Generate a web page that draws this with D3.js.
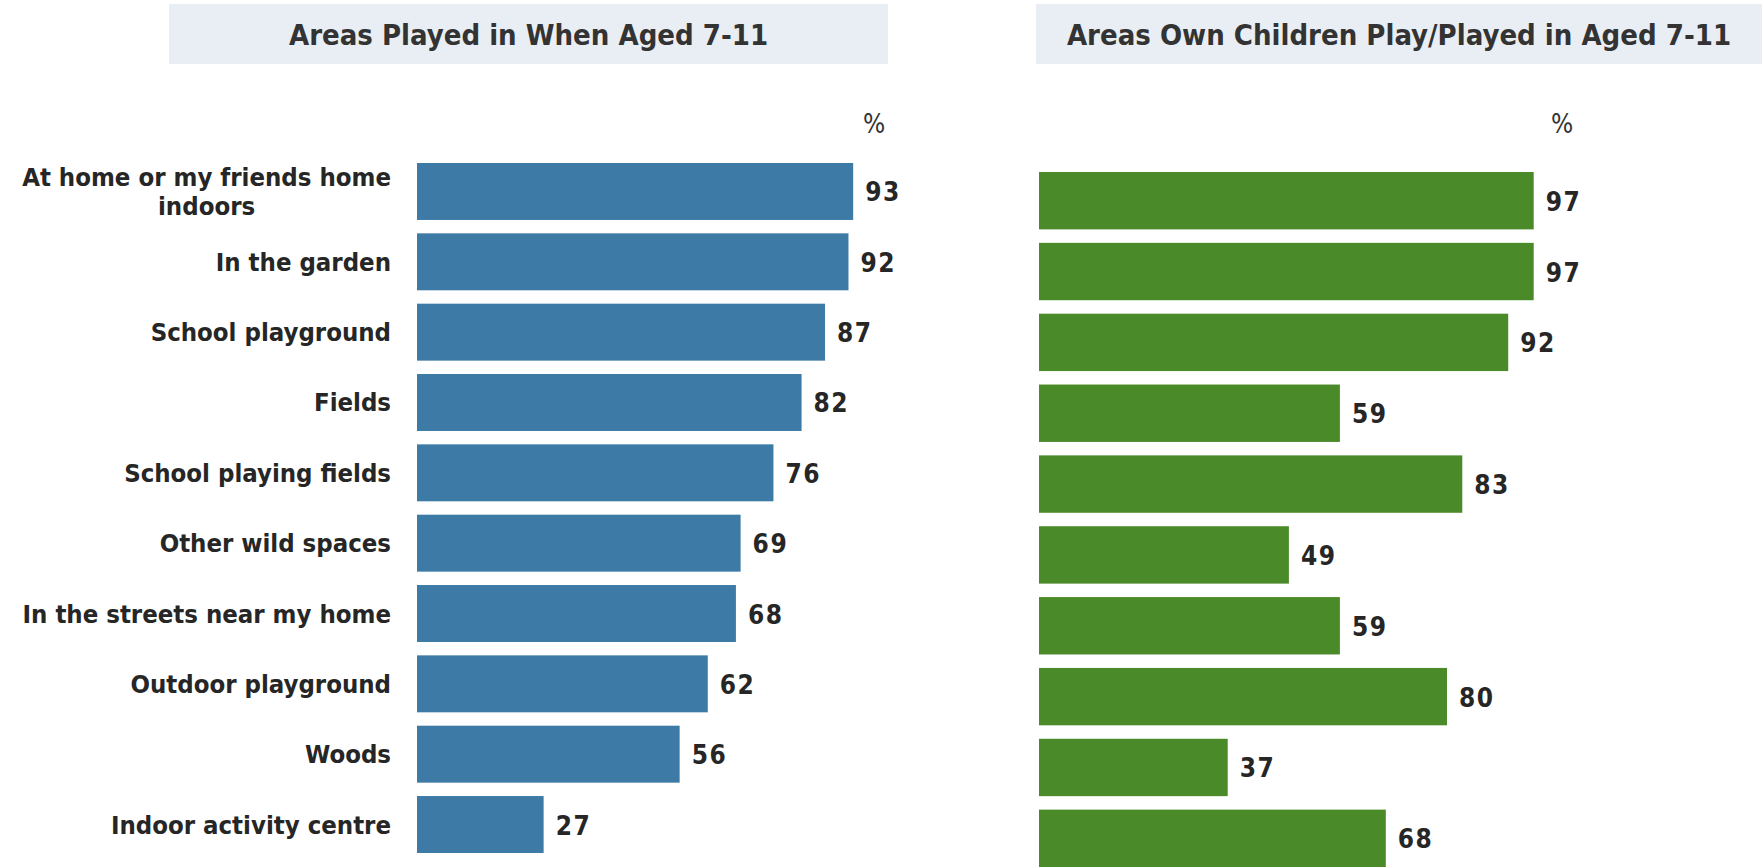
<!doctype html>
<html lang="en">
<head>
<meta charset="UTF-8">
<title>Areas Played in Aged 7-11</title>
<style>
  body { margin: 0; background: #fff; }
  svg { display: block; }
  .title { font-family: "DejaVu Sans Condensed", "DejaVu Sans", sans-serif; font-weight: bold; font-size: 29px; fill: #333; }
  .cat { font-family: "DejaVu Sans Condensed", "DejaVu Sans", sans-serif; font-weight: bold; font-size: 25.5px; fill: #262626; }
  .val { font-family: "DejaVu Sans Condensed", "DejaVu Sans", sans-serif; font-weight: bold; font-size: 26px; fill: #262626; letter-spacing: 1.5px; }
  .pct { font-family: "DejaVu Sans Condensed", "DejaVu Sans", sans-serif; font-size: 26px; fill: #333; }
</style>
</head>
<body>
<div id="chart"></div>
<script src="https://cdn.jsdelivr.net/npm/d3@7"></script>
<script>
  const categories = [
    'At home or my friends home\nindoors',
    'In the garden',
    'School playground',
    'Fields',
    'School playing fields',
    'Other wild spaces',
    'In the streets near my home',
    'Outdoor playground',
    'Woods',
    'Indoor activity centre'
  ]
  const playedValues = [93, 92, 87, 82, 76, 69, 68, 62, 56, 27]
  const ownChildrenValues = [97, 97, 92, 59, 83, 49, 59, 80, 37, 68]
  const titles = ['Areas Played in When Aged 7-11', 'Areas Own Children Play/Played in Aged 7-11']

  const width = 1762
  const height = 867

  const svg = d3.select('#chart')
    .append('svg')
    .attr('width', width)
    .attr('height', height)

  const panels = [
    {title: titles[0], values: playedValues, color: '#3d7ba6', x0: 417, xSpan: 469, y0: 163, y1: 853, box: [169, 888], pctX: 874, labels: true},
    {title: titles[1], values: ownChildrenValues, color: '#4a8a28', x0: 1039, xSpan: 510, y0: 172, y1: 867, box: [1036, 1762], pctX: 1562, labels: false}
  ]

  panels.forEach(p => {
    const g = svg.append('g')

    // title box
    g.append('rect')
      .attr('x', p.box[0])
      .attr('y', 4)
      .attr('width', p.box[1] - p.box[0])
      .attr('height', 60)
      .attr('fill', '#e9eef4')

    g.append('text')
      .attr('class', 'title')
      .attr('x', (p.box[0] + p.box[1]) / 2)
      .attr('y', 35)
      .attr('text-anchor', 'middle')
      .attr('dominant-baseline', 'central')
      .text(p.title)

    g.append('text')
      .attr('class', 'pct')
      .attr('x', p.pctX)
      .attr('y', 124)
      .attr('text-anchor', 'middle')
      .attr('dominant-baseline', 'central')
      .text('%')

    const x = d3.scaleLinear()
      .domain([0, 100])
      .range([p.x0, p.x0 + p.xSpan])

    const y = d3.scaleBand()
      .domain(categories)
      .range([p.y0, p.y1])
      .paddingInner(0.19)
      .paddingOuter(0)

    const rows = categories.map((c, i) => ({cat: c, value: p.values[i]}))

    g.selectAll('rect.bar')
      .data(rows)
      .enter()
      .append('rect')
      .attr('class', 'bar')
      .attr('x', x(0))
      .attr('y', d => y(d.cat))
      .attr('width', d => x(d.value) - x(0))
      .attr('height', y.bandwidth())
      .attr('fill', p.color)

    g.selectAll('text.val')
      .data(rows)
      .enter()
      .append('text')
      .attr('class', 'val')
      .attr('x', d => x(d.value) + 12)
      .attr('y', d => y(d.cat) + y.bandwidth() / 2 + 1)
      .attr('dominant-baseline', 'central')
      .text(d => d.value)

    if (p.labels) {
      g.selectAll('text.cat')
        .data(rows)
        .enter()
        .append('text')
        .attr('class', 'cat')
        .attr('y', d => y(d.cat) + y.bandwidth() / 2)
        .attr('dominant-baseline', 'central')
        .each(function (d) {
          const lines = d.cat.split('\n')
          const t = d3.select(this)
          if (lines.length === 1) {
            t.attr('x', 391).attr('text-anchor', 'end').text(lines[0])
          } else {
            // wrapped label, lines centred on the first line
            t.text(lines[0])
            const w = this.getComputedTextLength()
            t.text(null)
            const cx = 391 - w / 2
            t.attr('text-anchor', 'middle')
            lines.forEach((l, i) => {
              t.append('tspan')
                .attr('x', cx)
                .attr('dy', i === 0 ? -14.5 : 29)
                .text(l)
            })
          }
        })
    }
  })
</script>
</body>
</html>
